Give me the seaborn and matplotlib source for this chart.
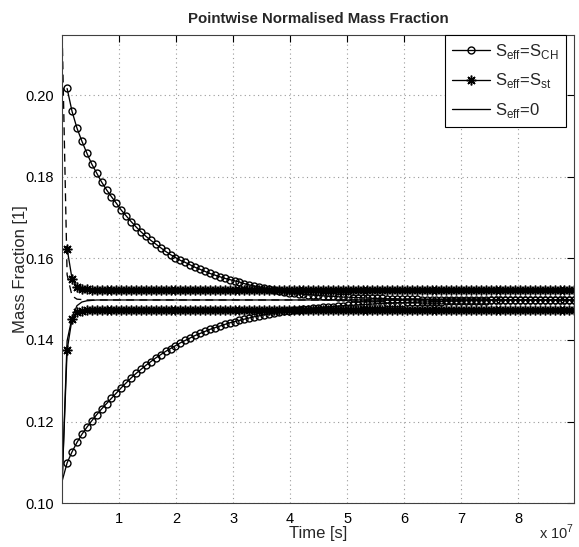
import numpy as np
import matplotlib
matplotlib.use("Agg")
import matplotlib.pyplot as plt
import seaborn as sns

# time axis: one sample every 10 days
dt = 8.64e5
n_steps = 105
t = np.arange(n_steps) * dt

# S_eff = S_CH (circles), upper point starts at the first step, lower point at t=0
ch_upper = [0.2016, 0.1960, 0.1919, 0.1887, 0.1858, 0.1831, 0.1809, 0.1787, 0.1768, 0.1751,
            0.1735, 0.1718, 0.1704, 0.1690, 0.1677, 0.1665, 0.1654, 0.1644, 0.1635, 0.1626,
            0.1617, 0.1609, 0.1602, 0.1595, 0.1590, 0.1584, 0.1578, 0.1573, 0.1568, 0.1563,
            0.1559, 0.1555, 0.1551, 0.1548, 0.1545, 0.1542, 0.1538, 0.1535, 0.1532, 0.1530,
            0.1527, 0.1525, 0.1522, 0.1520, 0.1518, 0.1516, 0.1515, 0.1513, 0.1512, 0.1511,
            0.1510, 0.1509, 0.1508, 0.1507, 0.1507, 0.1506, 0.1505, 0.1505, 0.1504, 0.1504,
            0.1503, 0.1503, 0.1502, 0.1502, 0.1502, 0.1501, 0.1501, 0.1501, 0.1500, 0.1500,
            0.1500, 0.1500, 0.1499, 0.1499, 0.1499, 0.1499, 0.1499, 0.1498, 0.1498, 0.1498] + [0.1498] * 24
ch_lower = [0.1055, 0.1099, 0.1126, 0.1149, 0.1169, 0.1186, 0.1202, 0.1217, 0.1231, 0.1244, 0.1257,
            0.1270, 0.1283, 0.1295, 0.1307, 0.1318, 0.1328, 0.1338, 0.1347, 0.1356, 0.1364,
            0.1372, 0.1379, 0.1386, 0.1393, 0.1399, 0.1405, 0.1411, 0.1416, 0.1421, 0.1426,
            0.1430, 0.1434, 0.1438, 0.1442, 0.1445, 0.1448, 0.1451, 0.1454, 0.1457, 0.1459,
            0.1462, 0.1464, 0.1466, 0.1468, 0.1470, 0.1471, 0.1473, 0.1474, 0.1476, 0.1477,
            0.1478, 0.1479, 0.1480, 0.1481, 0.1482, 0.1483, 0.1484, 0.1485, 0.1485, 0.1486,
            0.1487, 0.1487, 0.1488, 0.1489, 0.1489, 0.1490, 0.1490, 0.1491, 0.1491, 0.1492,
            0.1492, 0.1493, 0.1493, 0.1493, 0.1494, 0.1494, 0.1494, 0.1495, 0.1495, 0.1495,
            0.1495, 0.1496, 0.1496, 0.1496, 0.1496, 0.1496] + [0.1497] * 18

# S_eff = S_st (asterisks)
st_upper = [0.1624, 0.1550, 0.1530, 0.1525, 0.1524] + [0.1523] * 99
st_lower = [0.1055, 0.1375, 0.1452, 0.1468, 0.1472] + [0.1474] * 100

# S_eff = 0 (no markers)
zero_upper = [0.2147, 0.1560, 0.1508, 0.1500, 0.1499] + [0.1498] * 100
zero_lower = [0.1055, 0.1398, 0.1455, 0.1484, 0.1493, 0.1496, 0.1497] + [0.1498] * 98

labels = ["S$_\\mathregular{eff}$=S$_\\mathregular{CH}$",
          "S$_\\mathregular{eff}$=S$_\\mathregular{st}$",
          "S$_\\mathregular{eff}$=0"]
xticks = [1e7, 2e7, 3e7, 4e7, 5e7, 6e7, 7e7, 8e7]
xticklabels = ["1", "2", "3", "4", "5", "6", "7", "8"]
yticks = [0.10, 0.12, 0.14, 0.16, 0.18, 0.20]

sns.set_style("white")
plt.rcParams["font.family"] = ["Liberation Sans", "DejaVu Sans"]
plt.rcParams["mathtext.fontset"] = "custom"
plt.rcParams["mathtext.rm"] = "Liberation Sans"

fig = plt.figure(figsize=(5.79, 5.47), dpi=100)
ax = fig.add_axes([0.1074, 0.0799, 0.8845, 0.8561])

asterisk = (8, 2, 0)
common = dict(color="k", linewidth=0.95, sort=False, estimator=None)
circ = dict(marker="o", markersize=5, markerfacecolor="none",
            markeredgecolor="k", markeredgewidth=1.0)
star = dict(marker=asterisk, markersize=7, markeredgecolor="k", markeredgewidth=1.1)

# circles
sns.lineplot(x=t[1:], y=ch_upper, ax=ax, **circ, **common)
sns.lineplot(x=t, y=ch_lower, ax=ax, markevery=slice(1, None), **circ, **common)
# asterisks
sns.lineplot(x=t[1:], y=st_upper, ax=ax, **star, **common)
sns.lineplot(x=t, y=st_lower, ax=ax, markevery=slice(1, None), **star, **common)
# no markers
sns.lineplot(x=t, y=zero_upper, ax=ax, linestyle=(0, (6, 4)), **common)
sns.lineplot(x=t, y=zero_lower, ax=ax, **common)

lines = ax.get_lines()
handles = [lines[0], lines[2], lines[5]]
leg = ax.legend(handles, labels, loc="upper right", bbox_to_anchor=(0.983, 1.0),
                borderaxespad=0, fontsize=12, frameon=True, fancybox=False,
                edgecolor="k", framealpha=1, handlelength=2.3, handletextpad=0.3,
                labelspacing=0.62, borderpad=0.42)
leg.get_frame().set_linewidth(0.8)

ax.set_xlim(0, t[-1])
ax.set_ylim(0.10, 0.2147)
ax.set_xticks(xticks)
ax.set_xticklabels(xticklabels)
ax.set_yticks(yticks)
ax.set_yticklabels(["%.2f" % v for v in yticks])
ax.grid(True, linestyle=(0, (1, 3)), color="#9a9a9a", linewidth=0.8)
ax.tick_params(direction="in", length=5, width=0.8, top=True, right=True,
               labelsize=10.5, colors="k", pad=6)
for sp in ax.spines.values():
    sp.set_color("#404040")
    sp.set_linewidth(0.8)

ax.set_xlabel("Time [s]", fontsize=12, labelpad=0)
ax.set_ylabel("Mass Fraction [1]", fontsize=12, labelpad=-2)
ax.set_title("Pointwise Normalised Mass Fraction", fontsize=10.8, fontweight="bold", pad=9)
ax.text(1.0, -0.042, "x 10$^\\mathregular{7}$", transform=ax.transAxes,
        ha="right", va="top", fontsize=10.5)

fig.savefig("out.png", dpi=100)
